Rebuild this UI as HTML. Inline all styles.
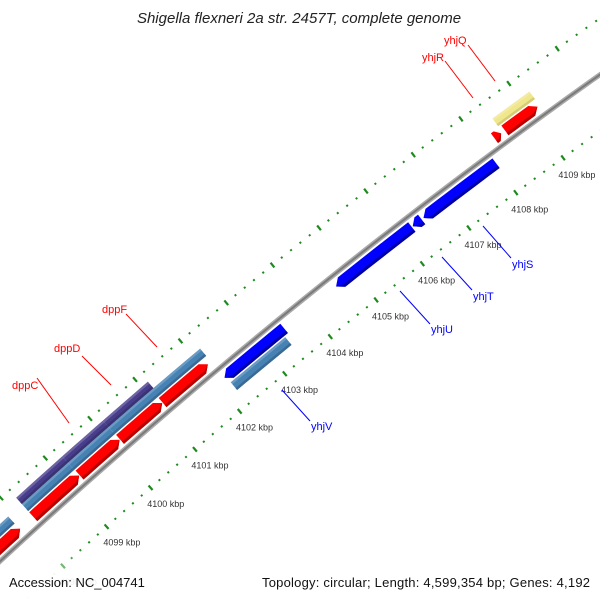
<!DOCTYPE html>
<html><head><meta charset="utf-8"><style>
html,body{margin:0;padding:0;background:#fff;width:600px;height:600px;overflow:hidden;}
svg{display:block;font-family:"Liberation Sans","DejaVu Sans",sans-serif;}
</style></head><body>
<svg id="map" width="600" height="600" viewBox="0 0 600 600" xmlns="http://www.w3.org/2000/svg">
<defs><clipPath id="clip"><rect x="0" y="0" width="600" height="600"/></clipPath></defs>
<text x="299" y="23" text-anchor="middle" font-size="15" font-style="italic" fill="#222">Shigella flexneri 2a str. 2457T, complete genome</text>
<g id="plot" clip-path="url(#clip)"></g>
<g font-size="11">
<line x1="37" y1="378" x2="69" y2="423" stroke="red" stroke-width="1"/>
<text x="12" y="389" fill="red">dppC</text>
<line x1="82" y1="356" x2="111" y2="385" stroke="red" stroke-width="1"/>
<text x="54" y="352" fill="red">dppD</text>
<line x1="126" y1="314" x2="157" y2="347" stroke="red" stroke-width="1"/>
<text x="102" y="313" fill="red">dppF</text>
<line x1="445" y1="61" x2="473" y2="98" stroke="red" stroke-width="1"/>
<text x="422" y="61" fill="red">yhjR</text>
<line x1="468" y1="45" x2="495" y2="81" stroke="red" stroke-width="1"/>
<text x="444" y="44" fill="red">yhjQ</text>
<line x1="282" y1="390" x2="310" y2="421" stroke="blue" stroke-width="1"/>
<text x="311" y="430" fill="blue">yhjV</text>
<line x1="400" y1="291" x2="430" y2="324" stroke="blue" stroke-width="1"/>
<text x="431" y="333" fill="blue">yhjU</text>
<line x1="442" y1="257" x2="472" y2="290" stroke="blue" stroke-width="1"/>
<text x="473" y="300" fill="blue">yhjT</text>
<line x1="483" y1="226" x2="511" y2="258" stroke="blue" stroke-width="1"/>
<text x="512" y="268" fill="blue">yhjS</text>
</g>
<rect x="0" y="572" width="600" height="28" fill="#fff" opacity="0.85"/>
<text x="9" y="587" font-size="13" fill="#111">Accession: NC_004741</text>
<text x="590" y="587" font-size="13" fill="#111" text-anchor="end" textLength="328">Topology: circular; Length: 4,599,354 bp; Genes: 4,192</text>
</svg>
<script>
// data (kbp)
const fwdStart=[4096.5,4098.19,4099.24,4100.15,4101.1,4108.26,4108.48];
const fwdEnd=[4097.89,4099.23,4100.14,4101.09,4102.10,4108.40,4109.16];
const revStart=[4102.17,4104.61,4106.26,4106.49];
const revEnd=[4103.48,4106.24,4106.45,4108.03];
const outerBlueStart=[4096.5,4098.19,4099.23,4100.14];
const outerBlueEnd=[4097.88,4099.23,4100.14,4102.17];
const purpleStart=[4098.19,4099.23,4100.14];
const purpleEnd=[4099.23,4100.14,4101.14];
const yellowStart=[4108.43];
const yellowEnd=[4109.2];
const innerBlueStart=[4102.2];
const innerBlueEnd=[4103.4];
const tickLabels=[4098,4099,4100,4101,4102,4103,4104,4105,4106,4107,4108,4109];

const CX=4072,CY=4968,R=6000;
const NS='http://www.w3.org/2000/svg';
const plot=document.getElementById('plot');
function ang(k){return(-131.76+0.565*(k-4099))*Math.PI/180;}
function pt(k,r){const a=ang(k);return[CX+r*Math.cos(a),CY+r*Math.sin(a)];}
function mk(tag,attrs){const e=document.createElementNS(NS,tag);for(const k in attrs)e.setAttribute(k,attrs[k]);plot.appendChild(e);return e;}
function arcPts(s,e,r,n){const p=[];for(let i=0;i<=n;i++){p.push(pt(s+(e-s)*i/n,r));}return p;}
function polyStr(p){return p.map(q=>q[0].toFixed(2)+','+q[1].toFixed(2)).join(' ');}

// backbone
const bb=arcPts(4094,4113,R,40);
let el=mk('polyline',{points:polyStr(bb),fill:'none',stroke:'#aaaaaa','stroke-width':5});


el=mk('polyline',{points:polyStr(bb),fill:'none',stroke:'#7a7a7a','stroke-width':2});



// ticks
function tickRow(r,dir,rowName){
  for(let i=0;i<=90;i++){
    const k=4094+i*0.2;
    const major=Math.abs(k-Math.round(k))<0.01;
    let op=1;
    if(dir<0){op=Math.max(0.15,Math.min(1,(k-4097.2)/1.3));}
    const a=pt(k,r-(major?3:1)),b=pt(k,r+(major?3:1));
    const t=mk('line',{x1:a[0],y1:a[1],x2:b[0],y2:b[1],stroke:'#1e8a1e','stroke-width':major?2.2:2,opacity:op});
    
    
  }
}
tickRow(R+46,1,'outer');
tickRow(R-46,-1,'inner');
tickLabels.forEach(k=>{
  const p=pt(k,R-66);
  const op=Math.max(0.15,Math.min(1,(k-4097.2)/1.3));
  const t=mk('text',{x:p[0]+2,y:p[1]+4,'font-size':9,fill:'#333','text-anchor':'middle',opacity:op});
  t.textContent=k+' kbp';
  
  
});

// features
function bar(s,e,r0,r1,fill,edge,name){
  const n=6;
  const p=arcPts(s,e,r1,n).concat(arcPts(e,s,r0,n));
  const g=mk('polygon',{points:polyStr(p),fill:fill});
  
  
  const q=arcPts(s,e,r0+2.5,n).concat(arcPts(e,s,r0,n));
  const d=mk('polygon',{points:polyStr(q),fill:edge});
  
  
  const h=arcPts(s,e,r1,n).concat(arcPts(e,s,r1-2.5,n));
  const l=mk('polygon',{points:polyStr(h),fill:'#ffffff',opacity:0.2});
  
  
}
function arrow(s,e,r0,r1,fill,edge,fwd,name){
  const n=6,h=Math.min(0.12,(e-s)*0.6),rm=(r0+r1)/2;
  let p;
  if(fwd){p=arcPts(s,e-h,r1,n).concat([pt(e,rm)]).concat(arcPts(e-h,s,r0,n));}
  else{p=[pt(s,rm)].concat(arcPts(s+h,e,r1,n)).concat(arcPts(e,s+h,r0,n));}
  const g=mk('polygon',{points:polyStr(p),fill:fill});
  
  
  let q;
  if(fwd){q=arcPts(s,e-h,r0+3,n).concat([pt(e,rm)]).concat(arcPts(e-h,s,r0,n));}
  else{q=[pt(s,rm)].concat(arcPts(s+h,e,r0+3,n)).concat(arcPts(e,s+h,r0,n));}
  const d=mk('polygon',{points:polyStr(q),fill:edge});
  
  
}
outerBlueStart.forEach((s,i)=>bar(s,outerBlueEnd[i],R+18,R+27.5,'#4682b4','#3a6a94','outer-steelblue-'+i));
purpleStart.forEach((s,i)=>bar(s,purpleEnd[i],R+27.5,R+36,'#483d8b','#3a3272','purple-block-'+i));
yellowStart.forEach((s,i)=>bar(s,yellowEnd[i],R+18,R+27.5,'#f0e68c','#d6cc78','yellow-block-'+i));
innerBlueStart.forEach((s,i)=>bar(s,innerBlueEnd[i],R-28,R-18,'#4682b4','#3a6a94','inner-steelblue-'+i));
fwdStart.forEach((s,i)=>arrow(s,fwdEnd[i],R+4.5,R+16.5,'#ff0000','#b80000',true,'forward-gene-'+i));
revStart.forEach((s,i)=>arrow(s,revEnd[i],R-16.5,R-4.5,'#0000ff','#0000a8',false,'reverse-gene-'+i));
</script>
</body></html>
